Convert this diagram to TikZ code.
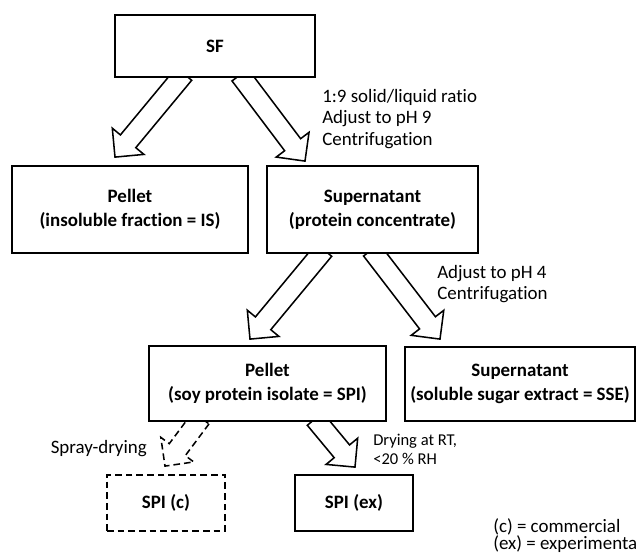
\documentclass[tikz,border=0pt]{standalone}
\usepackage{fontspec}
\setmainfont{Carlito}[Ligatures=NoCommon]
\usetikzlibrary{calc,backgrounds}

% hollow block arrow, from #2 (start) to #3 (tip)
\newcommand{\fatarrow}[3][]{%
  \path (#2) coordinate (bas) (#3) coordinate (bat);
  \draw[blockarr,#1] ($(bas)!7.5pt!90:(bat)$)
    -- ($(bat)!15.4pt!(bas)!7.5pt!90:(bat)$)
    -- ($(bat)!15.4pt!(bas)!15.4pt!90:(bat)$)
    -- (bat)
    -- ($(bat)!15.4pt!(bas)!15.4pt!-90:(bat)$)
    -- ($(bat)!15.4pt!(bas)!7.5pt!-90:(bat)$)
    -- ($(bas)!7.5pt!-90:(bat)$) -- cycle;}

\begin{document}
\begin{tikzpicture}[x=0.75pt, y=-0.75pt,
  box/.style={draw, line width=1.35pt, fill=white, align=center, inner sep=0pt,
    font=\fontsize{14.2}{18}\selectfont\bfseries},
  blockarr/.style={draw, line width=1.15pt, line join=miter},
  note/.style={align=left, inner sep=0pt, font=\fontsize{14.2}{16.3}\selectfont}
]
\useasboundingbox (0,0) rectangle (637,558);
\node[box, minimum width=150pt, minimum height=46.5pt] (sf) at (215,46) {SF};
\node[box, minimum width=177pt, minimum height=65.25pt] (is) at (130,209.5) {Pellet\\(insoluble fraction = IS)};
\node[box, minimum width=158.25pt, minimum height=65.25pt] (pc) at (372.5,209.5) {Supernatant\\(protein concentrate)};
\node[box, minimum width=177.75pt, minimum height=56.25pt] (spi) at (267.5,383.5) {Pellet\\(soy protein isolate = SPI)};
\node[box, minimum width=172.5pt, minimum height=55.5pt] (sse) at (520,384) {Supernatant\\(soluble sugar extract = SSE)};
\node[box, dashed, dash pattern=on 5pt off 3pt, minimum width=88.5pt, minimum height=42pt] (spic) at (166,503) {SPI (c)};
\node[box, minimum width=88.5pt, minimum height=42pt] (spiex) at (354,503) {SPI (ex)};
% process steps
\node[note, anchor=west] (step1) at (322,119) {1:9 solid/liquid ratio\\Adjust to pH 9\\Centrifugation};
\node[note, anchor=west] (step2) at (437,284) {Adjust to pH 4\\Centrifugation};
\node[note, anchor=east] (spray) at (147,449) {Spray-drying};
\node[note, anchor=west, font=\fontsize{12.4}{14.3}\selectfont] (dry) at (373,449.5) {Drying at RT,\\<20 \% RH};
% legend
\node[note, anchor=west, font=\fontsize{14.2}{11.25}\selectfont] (legend) at (493,535.5) {(c) = commercial\\(ex) = experimental};
% block arrows behind the boxes
\begin{scope}[on background layer]
\fatarrow{$(sf.south)+(-31,-4)$}{$(is.north)+(-15,-8)$}
\fatarrow{$(sf.south)+(25,-3)$}{$(pc.north)+(-67.5,-4)$}
\fatarrow{$(pc.south)+(-48.5,-4)$}{$(spi.north)+(-17.5,-6)$}
\fatarrow{$(pc.south)+(-1,-4)$}{$(sse.north)+(-80,-7)$}
\fatarrow{$(spi.south)+(47.5,-3)$}{$(spiex.north)+(1,-7)$}
\fatarrow[dashed, dash pattern=on 5pt off 3pt]{$(spi.south)+(-66.5,-4)$}{$(spic.north)+(-1,-8)$}
\end{scope}
\end{tikzpicture}
\end{document}
